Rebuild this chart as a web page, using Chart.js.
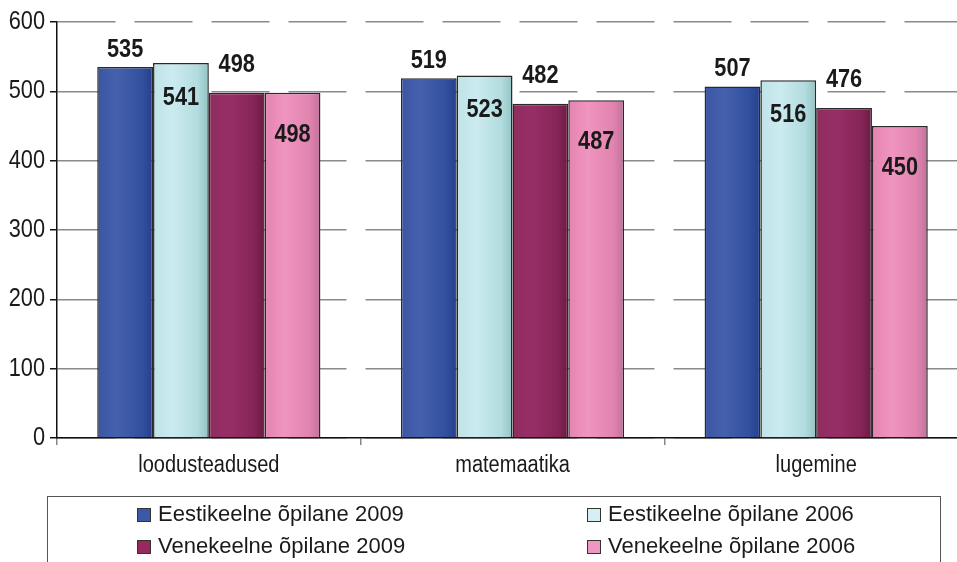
<!DOCTYPE html>
<html>
<head>
<meta charset="utf-8">
<script src="https://cdn.jsdelivr.net/npm/chart.js@4/dist/chart.umd.min.js"></script>
<style>
  html, body { margin: 0; padding: 0; background: #fff; overflow: hidden; }
  canvas { display: block; }
</style>
</head>
<body>
<canvas id="myChart" width="968" height="562"></canvas>
<script>
// data
const categories = ['loodusteadused', 'matemaatika', 'lugemine'];
const seriesNames = ['Eestikeelne õpilane 2009', 'Eestikeelne õpilane 2006', 'Venekeelne õpilane 2009', 'Venekeelne õpilane 2006'];
const est2009 = [535, 519, 507];
const est2006 = [541, 523, 516];
const ven2009 = [498, 482, 476];
const ven2006 = [498, 487, 450];
const yTicks = [0, 100, 200, 300, 400, 500, 600];

// look
const legendColors = ['#3d58a6', '#d5eff2', '#98295f', '#f097c1'];
const shades = [
    ['#3b55a3', '#4561ac', '#31509e', '#263f8c'],
    ['#bfe3e8', '#cbebef', '#b2dcdf', '#93c2c2'],
    ['#8e2c5f', '#972f66', '#862558', '#6c1a44'],
    ['#e583b0', '#ef95bf', '#e184b0', '#c1709a']
];
const labelOffsets = [-17, 35, -28, 42]; // above / inside bar top
const textFont = '"Liberation Sans", Arial, sans-serif';
const narrow = 0.87; // the original text is squeezed sideways

// draw text squeezed horizontally
function narrowText(c, text, x, y, align, font) {
    c.save();
    c.font = font;
    c.textAlign = align;
    c.textBaseline = 'middle';
    c.translate(x, y);
    c.scale(narrow, 1);
    c.fillText(text, 0, 0);
    c.restore();
}

// cylinder-like shading for every bar
const shading = {
    id: 'shading',
    beforeDatasetsDraw(chart) {
        const c = chart.ctx;
        chart.data.datasets.forEach((ds, i) => {
            chart.getDatasetMeta(i).data.forEach(bar => {
                const l = bar.x - bar.width / 2, r = bar.x + bar.width / 2;
                const g = c.createLinearGradient(l, 0, r, 0);
                const s = shades[i];
                g.addColorStop(0, s[0]);
                g.addColorStop(0.35, s[1]);
                g.addColorStop(0.8, s[2]);
                g.addColorStop(1, s[3]);
                bar.options.backgroundColor = g;
            });
        });
    }
};

// value labels, alternating above and inside the bars
const valueLabels = {
    id: 'valueLabels',
    afterDatasetsDraw(chart) {
        const c = chart.ctx;
        c.fillStyle = '#1a1a1a';
        chart.data.datasets.forEach((ds, i) => {
            chart.getDatasetMeta(i).data.forEach((bar, j) => {
                narrowText(c, String(ds.data[j]), bar.x, bar.y + labelOffsets[i], 'center', 'bold 25px ' + textFont);
            });
        });
    }
};

// axis tick labels (squeezed like the original)
const axisText = {
    id: 'axisText',
    afterDraw(chart) {
        const c = chart.ctx;
        const xs = chart.scales.x, ys = chart.scales.y;
        c.fillStyle = '#1a1a1a';
        ys.ticks.forEach((t, i) => {
            narrowText(c, String(t.value), ys.right - 12, ys.getPixelForTick(i), 'right', '25px ' + textFont);
        });
        xs.ticks.forEach((t, i) => {
            narrowText(c, categories[i], xs.getPixelForTick(i), xs.top + 28, 'center', '23px ' + textFont);
        });
    }
};

// boxed two-column legend at the bottom
const boxLegend = {
    id: 'boxLegend',
    afterDraw(chart) {
        const c = chart.ctx;
        c.save();
        c.strokeStyle = '#555';
        c.lineWidth = 1;
        c.strokeRect(47.5, 496.5, 893, 100);
        const cols = [137, 587], rows = [515, 547];
        c.font = '22px ' + textFont;
        c.textBaseline = 'middle';
        c.textAlign = 'left';
        seriesNames.forEach((name, i) => {
            const x = cols[i % 2], y = rows[Math.floor(i / 2)];
            c.fillStyle = legendColors[i];
            c.fillRect(x, y - 7, 14, 14);
            c.strokeStyle = '#333';
            c.strokeRect(x + 0.5, y - 6.5, 13, 13);
            c.fillStyle = '#1a1a1a';
            c.fillText(name, x + 21, y);
        });
        c.restore();
    }
};

const allSeries = [est2009, est2006, ven2009, ven2006];

const ctx = document.getElementById('myChart').getContext('2d');
new Chart(ctx, {
    type: 'bar',
    data: {
        labels: categories,
        datasets: allSeries.map((vals, i) => ({
            label: seriesNames[i],
            data: vals,
            backgroundColor: () => legendColors[i],
            borderColor: '#2a2a2a',
            borderWidth: 1.5,
            barPercentage: 1,
            categoryPercentage: 0.735
        }))
    },
    options: {
        responsive: false,
        animation: false,
        layout: { padding: { top: 22, right: 0, bottom: 74, left: 0 } },
        plugins: {
            legend: { display: false },
            tooltip: { enabled: false }
        },
        scales: {
            x: {
                offset: true,
                afterFit: (s) => { s.height = 50; s.paddingLeft = 0; s.paddingRight = 0; },
                border: { color: '#111', width: 1.5 },
                grid: {
                    offset: true,
                    drawOnChartArea: false,
                    drawTicks: true,
                    tickLength: 7,
                    tickColor: '#888',
                    lineWidth: 1.5
                },
                ticks: { display: false }
            },
            y: {
                min: yTicks[0],
                max: yTicks[yTicks.length - 1],
                afterFit: (s) => { s.width = 57; s.paddingTop = 0; s.paddingBottom = 0; },
                afterBuildTicks: (s) => { s.ticks = yTicks.map(v => ({ value: v })); },
                border: { color: '#111', width: 1.5, dash: [58, 19] },
                grid: {
                    color: '#8a8a8a',
                    lineWidth: 1.5,
                    tickBorderDash: [],
                    tickColor: '#111',
                    tickLength: 7
                },
                ticks: { display: false }
            }
        }
    },
    plugins: [shading, valueLabels, axisText, boxLegend]
});
</script>
</body>
</html>
